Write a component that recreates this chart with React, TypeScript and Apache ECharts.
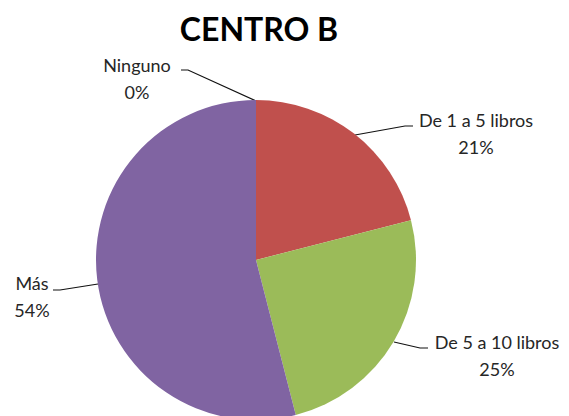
import React, { useEffect, useRef } from "react";
import * as echarts from "echarts";

const categories = ["Ninguno", "De 1 a 5 libros", "De 5 a 10 libros", "Más"];
const values = [0, 21, 25, 54];
const colors = ["#4F81BD", "#C0504D", "#9BBB59", "#8064A2"];

// label block centres and leader-line points (layout only)
const labelPos: [number, number][] = [
  [137, 78],
  [476, 133],
  [497, 355],
  [32, 296],
];
const linePts: [number, number][][] = [
  [[256, 101], [188, 70], [181, 70]],
  [[355, 135], [405, 126], [413, 126]],
  [[394, 342], [420, 348], [428, 348]],
  [[98, 284], [60, 290], [53, 290]],
];

export default function App() {
  const ref = useRef<HTMLDivElement>(null);
  useEffect(() => {
    document.body.style.margin = "0";
    const chart = echarts.init(ref.current!, null, { renderer: "svg" });
    chart.setOption({
      animation: false,
      backgroundColor: "#ffffff",
      title: {
        text: "CENTRO B",
        left: 254,
        top: 7,
        textAlign: "center",
        textStyle: { fontFamily: "Lato", fontWeight: "bold", fontSize: 32, color: "#000" },
      },
      series: [
        {
          type: "pie",
          center: [256, 260],
          radius: 160,
          startAngle: 90,
          clockwise: true,
          avoidLabelOverlap: false,
          itemStyle: { borderColor: "#ffffff", borderWidth: 0 },
          data: categories.map((c, i) => ({ name: c, value: values[i], itemStyle: { color: colors[i] } })),
          label: {
            show: true,
            formatter: (p: any) => `${p.name}\n${Math.round(p.percent)}%`,
            fontFamily: "Lato",
            fontSize: 18,
            lineHeight: 27,
            color: "#262626",
            align: "center",
          },
          labelLine: { show: true, lineStyle: { color: "#111", width: 1.2 } },
          labelLayout: (params: any) => {
            const i = params.dataIndex;
            return {
              x: labelPos[i][0],
              y: labelPos[i][1],
              align: "center",
              verticalAlign: "middle",
              labelLinePoints: linePts[i],
            };
          },
        },
      ],
    });
    return () => chart.dispose();
  }, []);
  return <div ref={ref} style={{ width: 569, height: 416 }} />;
}
